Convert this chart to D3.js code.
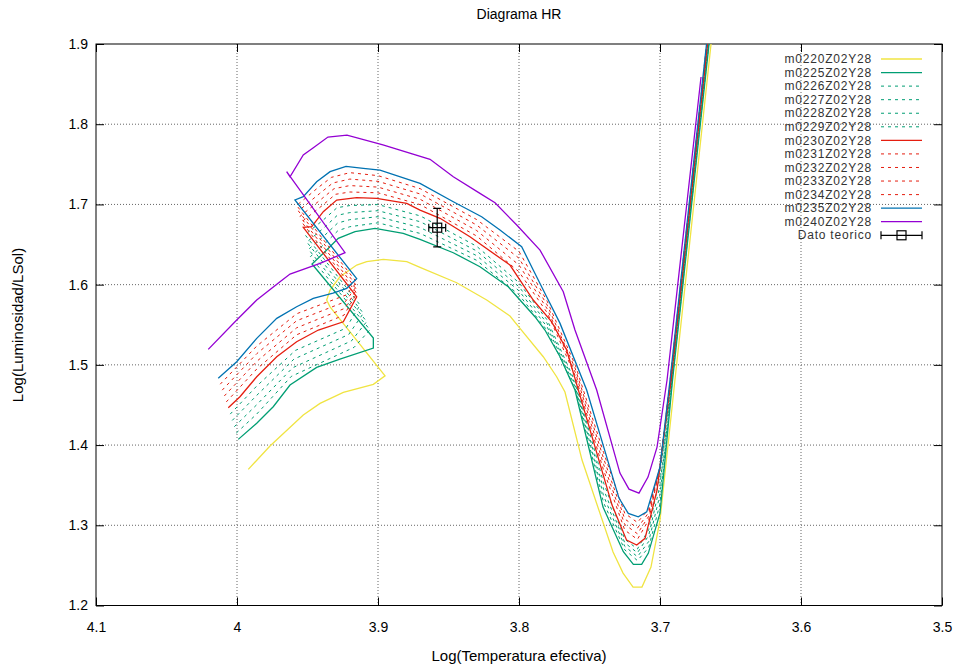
<!DOCTYPE html>
<html>
<head>
<meta charset="utf-8">
<script src="https://cdnjs.cloudflare.com/ajax/libs/d3/7.8.5/d3.min.js"></script>
<style>
body { margin: 0; background: #fff; }
svg text { font-family: Arial, "Liberation Sans", sans-serif; }
</style>
</head>
<body>
<div id="chart"></div>
<script>
// tracks: [log Teff, log L]
const m0220 = [[3.9920,1.3697],[3.9766,1.3988],[3.9530,1.4374],[3.9411,1.4520],[3.9246,1.4657],[3.9033,1.4757],[3.8950,1.4864],
  [3.9340,1.5724],[3.9364,1.5808],[3.9340,1.5933],[3.9270,1.6098],[3.9151,1.6244],[3.9080,1.6286],[3.8962,1.6315],
  [3.8796,1.6286],[3.8702,1.6216],[3.8442,1.6024],[3.8229,1.5808],[3.8064,1.5608],[3.7993,1.5455],[3.7828,1.5101],
  [3.7733,1.4852],[3.7674,1.4661],[3.7553,1.3813],[3.7333,1.2666],[3.7262,1.2404],[3.7191,1.2229],[3.7128,1.2229],
  [3.7064,1.2479],[3.7000,1.3065],[3.6894,1.4811],[3.6638,1.9000]];
const m0225 = [[3.9991,1.4071],[3.9860,1.4271],[3.9743,1.4478],[3.9624,1.4748],[3.9435,1.4969],[3.9270,1.5072],[3.9033,1.5209],[3.9033,1.5334],
  [3.9468,1.6257],[3.9376,1.6410],[3.9282,1.6577],[3.9163,1.6660],[3.9021,1.6702],[3.8821,1.6640],[3.8702,1.6565],
  [3.8466,1.6398],[3.8277,1.6223],[3.8076,1.5974],[3.7993,1.5808],[3.7887,1.5600],[3.7816,1.5434],[3.7709,1.5101],
  [3.7603,1.4686],[3.7404,1.3227],[3.7260,1.2670],[3.7189,1.2512],[3.7130,1.2512],[3.7083,1.2650],[3.7000,1.3152],
  [3.6911,1.4811],[3.6652,1.9000]];
const m0226 = [[4.0005,1.4150],[3.9860,1.4387],[3.9615,1.4856],[3.9169,1.5219],[3.9057,1.5437],
  [3.9480,1.6348],[3.9378,1.6510],[3.9284,1.6673],[3.9200,1.6722],[3.9000,1.6771],[3.8700,1.6638],[3.8300,1.6303],
  [3.8000,1.5873],[3.7800,1.5428],[3.7600,1.4694],[3.7400,1.3282],[3.7250,1.2694],[3.7160,1.2560],[3.7080,1.2724],
  [3.7000,1.3268],[3.6913,1.4811],[3.6654,1.9000]];
const m0227 = [[4.0019,1.4229],[3.9860,1.4503],[3.9605,1.4964],[3.9188,1.5299],[3.9080,1.5540],
  [3.9493,1.6440],[3.9381,1.6610],[3.9286,1.6768],[3.9200,1.6810],[3.9000,1.6847],[3.8700,1.6711],[3.8300,1.6361],
  [3.8000,1.5923],[3.7800,1.5472],[3.7600,1.4724],[3.7400,1.3365],[3.7250,1.2738],[3.7160,1.2608],[3.7080,1.2798],
  [3.7000,1.3383],[3.6915,1.4811],[3.6656,1.9000]];
const m0228 = [[4.0034,1.4307],[3.9860,1.4620],[3.9596,1.5072],[3.9208,1.5378],[3.9104,1.5643],
  [3.9505,1.6531],[3.9383,1.6709],[3.9289,1.6864],[3.9200,1.6898],[3.9000,1.6922],[3.8700,1.6784],[3.8300,1.6420],
  [3.8000,1.5974],[3.7800,1.5515],[3.7600,1.4753],[3.7400,1.3447],[3.7250,1.2782],[3.7160,1.2657],[3.7080,1.2873],
  [3.7000,1.3499],[3.6918,1.4811],[3.6659,1.9000]];
const m0229 = [[4.0048,1.4386],[3.9860,1.4736],[3.9586,1.5180],[3.9227,1.5458],[3.9127,1.5746],
  [3.9518,1.6623],[3.9386,1.6809],[3.9291,1.6959],[3.9200,1.6986],[3.9000,1.6998],[3.8700,1.6857],[3.8300,1.6478],
  [3.8000,1.6024],[3.7800,1.5559],[3.7600,1.4783],[3.7400,1.3530],[3.7250,1.2826],[3.7160,1.2705],[3.7080,1.2947],
  [3.7000,1.3614],[3.6920,1.4811],[3.6661,1.9000]];
const m0230 = [[4.0062,1.4465],[3.9979,1.4602],[3.9860,1.4852],[3.9718,1.5101],[3.9577,1.5288],[3.9423,1.5434],[3.9246,1.5537],[3.9151,1.5849],
  [3.9530,1.6714],[3.9470,1.6722],[3.9388,1.6909],[3.9293,1.7055],[3.9151,1.7084],[3.9009,1.7076],[3.8796,1.7014],
  [3.8702,1.6930],[3.8560,1.6827],[3.8348,1.6597],[3.8064,1.6244],[3.7993,1.6057],[3.7899,1.5808],[3.7768,1.5537],
  [3.7662,1.5185],[3.7340,1.3252],[3.7237,1.2815],[3.7165,1.2753],[3.7106,1.2837],[3.7021,1.3439],[3.6922,1.4811],[3.6663,1.9000]];
const m0231 = [[4.0076,1.4538],[3.9860,1.4948],[3.9577,1.5375],[3.9241,1.5620],[3.9151,1.5894],
  [3.9542,1.6782],[3.9397,1.6984],[3.9302,1.7126],[3.9200,1.7155],[3.9000,1.7145],[3.8700,1.6997],[3.8300,1.6606],
  [3.8000,1.6160],[3.7800,1.5650],[3.7600,1.4858],[3.7400,1.3686],[3.7250,1.2940],[3.7160,1.2824],[3.7080,1.3067],
  [3.7000,1.3728],[3.6923,1.4811],[3.6664,1.9000]];
const m0232 = [[4.0090,1.4612],[3.9860,1.5043],[3.9577,1.5462],[3.9236,1.5704],[3.9151,1.5939],
  [3.9554,1.6850],[3.9407,1.7059],[3.9312,1.7196],[3.9200,1.7235],[3.9000,1.7216],[3.8700,1.7063],[3.8300,1.6674],
  [3.8000,1.6245],[3.7800,1.5698],[3.7600,1.4903],[3.7400,1.3759],[3.7250,1.3010],[3.7160,1.2894],[3.7080,1.3113],
  [3.7000,1.3728],[3.6925,1.4811],[3.6666,1.9000]];
const m0233 = [[4.0105,1.4685],[3.9860,1.5139],[3.9577,1.5550],[3.9232,1.5787],[3.9151,1.5984],
  [3.9565,1.6919],[3.9416,1.7133],[3.9321,1.7267],[3.9200,1.7316],[3.9000,1.7288],[3.8700,1.7130],[3.8300,1.6743],
  [3.8000,1.6329],[3.7800,1.5745],[3.7600,1.4948],[3.7400,1.3833],[3.7250,1.3079],[3.7160,1.2965],[3.7080,1.3159],
  [3.7000,1.3728],[3.6926,1.4811],[3.6667,1.9000]];
const m0234 = [[4.0119,1.4759],[3.9860,1.5234],[3.9577,1.5637],[3.9227,1.5871],[3.9151,1.6029],
  [3.9577,1.6987],[3.9426,1.7208],[3.9331,1.7337],[3.9200,1.7396],[3.9000,1.7359],[3.8700,1.7196],[3.8300,1.6811],
  [3.8000,1.6414],[3.7800,1.5793],[3.7600,1.4993],[3.7400,1.3906],[3.7250,1.3149],[3.7160,1.3035],[3.7080,1.3205],
  [3.7000,1.3728],[3.6928,1.4811],[3.6669,1.9000]];
const m0235 = [[4.0133,1.4832],[4.0002,1.5039],[3.9860,1.5330],[3.9718,1.5580],[3.9577,1.5724],[3.9459,1.5829],[3.9319,1.5895],[3.9222,1.5954],[3.9151,1.6074],
  [3.9589,1.7055],[3.9530,1.7096],[3.9435,1.7283],[3.9340,1.7408],[3.9227,1.7475],[3.9104,1.7450],[3.8986,1.7429],
  [3.8702,1.7263],[3.8466,1.7034],[3.8265,1.6847],[3.8135,1.6681],[3.7981,1.6473],[3.7899,1.6182],[3.7804,1.5849],
  [3.7709,1.5517],[3.7520,1.4686],[3.7291,1.3339],[3.7225,1.3148],[3.7154,1.3106],[3.7094,1.3168],[3.7000,1.3726],
  [3.6929,1.4811],[3.6670,1.9000]];
const m0240 = [[4.0204,1.5193],[4.0002,1.5559],[3.9860,1.5808],[3.9695,1.6036],[3.9624,1.6132],[3.9411,1.6266],[3.9234,1.6398],
  [3.9648,1.7408],[3.9624,1.7345],[3.9530,1.7616],[3.9461,1.7703],[3.9355,1.7840],[3.9220,1.7865],[3.8965,1.7741],
  [3.8631,1.7562],[3.8466,1.7345],[3.8277,1.7138],[3.8170,1.7021],[3.8016,1.6743],[3.7851,1.6431],[3.7686,1.5911],
  [3.7603,1.5434],[3.7449,1.4686],[3.7284,1.3651],[3.7220,1.3451],[3.7149,1.3401],[3.7085,1.3601],[3.7021,1.3975],
  [3.6950,1.4811],[3.6709,1.8589]];

// theoretical point with error bars
const datoTeorico = [3.858, 1.671];
const datoErr = [0.006, 0.024];

const seriesNames = ["m0220Z02Y28","m0225Z02Y28","m0226Z02Y28","m0227Z02Y28","m0228Z02Y28","m0229Z02Y28",
  "m0230Z02Y28","m0231Z02Y28","m0232Z02Y28","m0233Z02Y28","m0234Z02Y28","m0235Z02Y28","m0240Z02Y28"];
const seriesData = [m0220,m0225,m0226,m0227,m0228,m0229,m0230,m0231,m0232,m0233,m0234,m0235,m0240];
const datoLabel = "Dato teorico";

const xTicks = [4.1, 4.0, 3.9, 3.8, 3.7, 3.6, 3.5];
const xTickLabels = ["4.1","4","3.9","3.8","3.7","3.6","3.5"];
const yTicks = [1.2, 1.3, 1.4, 1.5, 1.6, 1.7, 1.8, 1.9];
const yTickLabels = ["1.2","1.3","1.4","1.5","1.6","1.7","1.8","1.9"];

// styles
const colYellow = "#f0e442", colGreen = "#009e73", colRed = "#e51e10", colBlue = "#0072b2", colPurple = "#9400d3";
const seriesColor = [colYellow, colGreen, colGreen, colGreen, colGreen, colGreen,
  colRed, colRed, colRed, colRed, colRed, colBlue, colPurple];
const seriesDash = [null, null, "3,4", "3,4", "3,4", "3,4", null, "3,4", "3,4", "3,4", "3,4", null, null];

let w = 962, h = 670;
let padL = 96, padR = 942, padT = 44, padB = 605.5;

let svg = d3.select("#chart").append("svg")
  .attr("width", w).attr("height", h)
  .attr("viewBox", `0 0 ${w} ${h}`);

let x = d3.scaleLinear().domain([4.1, 3.5]).range([padL, padR]);
let y = d3.scaleLinear().domain([1.2, 1.9]).range([padB, padT]);

// grid
let grid = svg.append("g").attr("stroke", "#666").attr("stroke-dasharray", "1,2").attr("stroke-width", 1);
xTicks.slice(1, -1).forEach(t => {
  grid.append("line").attr("x1", x(t)).attr("x2", x(t)).attr("y1", padT).attr("y2", padB);
});
yTicks.slice(1, -1).forEach(t => {
  grid.append("line").attr("x1", padL).attr("x2", padR).attr("y1", y(t)).attr("y2", y(t));
});

// axes, ticks inward on all sides
let xAxis = d3.axisBottom(x).tickValues(xTicks).tickFormat((d, i) => xTickLabels[i]).tickSize(-8).tickPadding(17);
let gx = svg.append("g").attr("transform", `translate(0,${padB})`).call(xAxis);
let yAxis = d3.axisLeft(y).tickValues(yTicks).tickFormat((d, i) => yTickLabels[i]).tickSize(-8).tickPadding(8);
let gy = svg.append("g").attr("transform", `translate(${padL},0)`).call(yAxis);
let gxTop = svg.append("g").attr("transform", `translate(0,${padT})`)
  .call(d3.axisTop(x).tickValues(xTicks).tickFormat("").tickSize(-8));
let gyRight = svg.append("g").attr("transform", `translate(${padR},0)`)
  .call(d3.axisRight(y).tickValues(yTicks).tickFormat("").tickSize(-8));
[gx, gy, gxTop, gyRight].forEach(g => {
  g.select(".domain").remove();
  g.selectAll("text").attr("font-size", 14).attr("fill", "#000")
    .attr("font-family", "Arial, 'Liberation Sans', sans-serif");
});

svg.append("rect").attr("x", padL).attr("y", padT)
  .attr("width", padR - padL).attr("height", padB - padT)
  .attr("fill", "none").attr("stroke", "#000").attr("stroke-width", 1);

// tracks
svg.append("clipPath").attr("id", "plotclip")
  .append("rect").attr("x", padL).attr("y", padT).attr("width", padR - padL).attr("height", padB - padT);

let line = d3.line().x(d => x(d[0])).y(d => y(d[1]));
let plot = svg.append("g").attr("clip-path", "url(#plotclip)");
seriesData.forEach((data, i) => {
  plot.append("path")
    .attr("d", line(data))
    .attr("fill", "none")
    .attr("stroke", seriesColor[i])
    .attr("stroke-width", seriesDash[i] ? 1 : 1.3)
    .attr("stroke-dasharray", seriesDash[i]);
});

// error bar point
function errorBar(g, cx, cy, x0, x1, y0, y1) {
  let s = g.append("g").attr("stroke", "#000").attr("stroke-width", 1.2).attr("fill", "none");
  s.append("line").attr("x1", x0).attr("x2", x1).attr("y1", cy).attr("y2", cy);
  s.append("line").attr("x1", x0).attr("x2", x0).attr("y1", cy - 4).attr("y2", cy + 4);
  s.append("line").attr("x1", x1).attr("x2", x1).attr("y1", cy - 4).attr("y2", cy + 4);
  if (y0 !== null) {
    s.append("line").attr("x1", cx).attr("x2", cx).attr("y1", y0).attr("y2", y1);
    s.append("line").attr("x1", cx - 4).attr("x2", cx + 4).attr("y1", y0).attr("y2", y0);
    s.append("line").attr("x1", cx - 4).attr("x2", cx + 4).attr("y1", y1).attr("y2", y1);
  }
  s.append("rect").attr("x", cx - 4.5).attr("y", cy - 4.5).attr("width", 9).attr("height", 9);
}
errorBar(plot, x(datoTeorico[0]), y(datoTeorico[1]),
  x(datoTeorico[0] + datoErr[0]), x(datoTeorico[0] - datoErr[0]),
  y(datoTeorico[1] + datoErr[1]), y(datoTeorico[1] - datoErr[1]));

// legend
let legend = svg.append("g");
let rowH = 13.56, ly0 = 59;
seriesNames.forEach((name, i) => {
  let yy = ly0 + i * rowH;
  legend.append("text").attr("x", 872).attr("y", yy).attr("dy", "0.35em")
    .attr("text-anchor", "end").attr("font-size", 12).attr("letter-spacing", 0.8)
    .attr("font-family", "'Liberation Mono', 'DejaVu Sans Mono', monospace").attr("fill", "#333")
    .text(name);
  legend.append("line").attr("x1", 881).attr("x2", 922).attr("y1", yy).attr("y2", yy)
    .attr("stroke", seriesColor[i]).attr("stroke-width", seriesDash[i] ? 1 : 1.3)
    .attr("stroke-dasharray", seriesDash[i]);
});
let datoRowY = ly0 + seriesNames.length * rowH;
legend.append("text").attr("x", 872).attr("y", datoRowY).attr("dy", "0.35em")
  .attr("text-anchor", "end").attr("font-size", 12).attr("letter-spacing", 0.8)
  .attr("font-family", "'Liberation Mono', 'DejaVu Sans Mono', monospace").attr("fill", "#333")
  .text(datoLabel);
errorBar(legend, 901.5, datoRowY, 881, 922, null, null);

// titles
svg.append("text").attr("x", 519).attr("y", 19).attr("text-anchor", "middle")
  .attr("font-size", 14).text("Diagrama HR");
svg.append("text").attr("x", 519).attr("y", 661).attr("text-anchor", "middle")
  .attr("font-size", 15).text("Log(Temperatura efectiva)");
svg.append("text").attr("transform", "translate(23,325) rotate(-90)").attr("text-anchor", "middle")
  .attr("font-size", 15).text("Log(Luminosidad/LSol)");
</script>
</body>
</html>
